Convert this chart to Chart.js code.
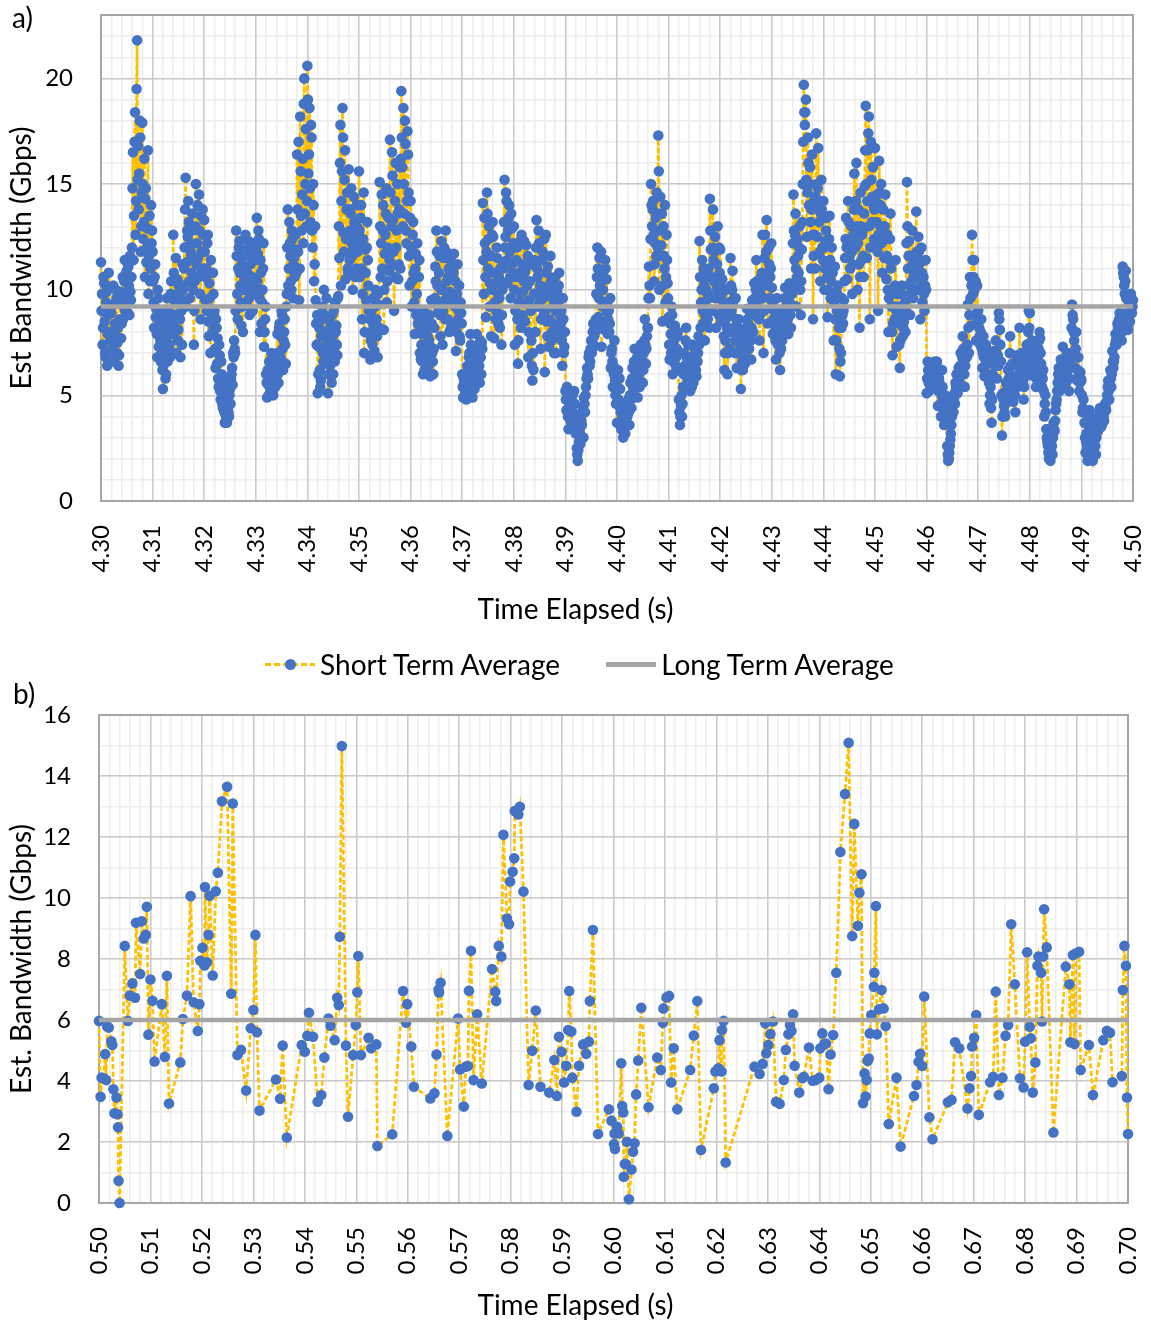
<!DOCTYPE html>
<html>
<head>
<meta charset="utf-8">
<title>Estimated bandwidth</title>
<script src="https://cdn.jsdelivr.net/npm/chart.js@4.4.1/dist/chart.umd.min.js"></script>
<style>
    body { margin: 0; background: #fff; width: 1151px; height: 1326px; position: relative; overflow: hidden; font-family: Lato, sans-serif; color: #000; }
    canvas { position: absolute; left: 0; }
    #chartA { top: 0; }
    #chartB { top: 640px; }
    .tag { position: absolute; font-size: 28px; line-height: 34px; }
    #legend { position: absolute; left: 0; width: 1159px; top: 644px; height: 40px; display: flex; justify-content: center; align-items: center; font-size: 28px; }
    .key { position: relative; width: 50px; height: 12px; margin-right: 5px; }
    .key .dash { position: absolute; left: 0; top: 5px; width: 50px; height: 2.75px; background: repeating-linear-gradient(90deg, #FFC000 0 6px, transparent 6px 9px); }
    .key .dot { position: absolute; left: 19.5px; top: 0.5px; width: 11px; height: 11px; border-radius: 50%; background: #4472C4; }
    .key .solid { position: absolute; left: 0; top: 4px; width: 50px; height: 4.5px; background: #A5A5A5; }
    .lbl + .key { margin-left: 46px; }
</style>
</head>
<body>
<canvas id="chartA" width="1151" height="640"></canvas>
<canvas id="chartB" width="1151" height="686"></canvas>
<div class="tag" style="left:12px; top:0px;">a)</div>
<div class="tag" style="left:13px; top:676px;">b)</div>
<div id="legend">
    <span class="key"><span class="dash"></span><span class="dot"></span></span><span class="lbl">Short Term Average</span>
    <span class="key"><span class="solid"></span></span><span class="lbl">Long Term Average</span>
</div>
<script>
// Two panels of estimated bandwidth: short term average (dashed + markers) and long term average

// ---- panel a: 4.30 - 4.50 s (samples on even 0.1 ms steps) ----
const timeA = [
    4.3000,4.3002,4.3004,4.3006,4.3008,4.3010,4.3012,4.3014,4.3016,4.3018,4.3020,4.3022,4.3024,4.3026,4.3028,4.3030,4.3032,4.3034,4.3036,4.3038,4.3040,4.3042,4.3044,4.3046,4.3048,4.3050,4.3052,4.3054,4.3056,4.3058,4.3060,4.3062,4.3064,4.3066,4.3068,4.3070,4.3072,4.3074,4.3076,4.3078,4.3080,4.3082,4.3084,4.3086,4.3088,4.3090,4.3092,4.3094,4.3096,4.3098,
    4.3100,4.3102,4.3104,4.3106,4.3108,4.3110,4.3112,4.3114,4.3116,4.3118,4.3120,4.3122,4.3124,4.3126,4.3128,4.3130,4.3132,4.3134,4.3136,4.3138,4.3140,4.3142,4.3144,4.3146,4.3148,4.3150,4.3152,4.3154,4.3156,4.3158,4.3160,4.3162,4.3164,4.3166,4.3168,4.3170,4.3172,4.3174,4.3176,4.3178,4.3180,4.3182,4.3184,4.3186,4.3188,4.3190,4.3192,4.3194,4.3196,4.3198,
    4.3200,4.3202,4.3204,4.3206,4.3208,4.3210,4.3212,4.3214,4.3216,4.3218,4.3220,4.3222,4.3224,4.3226,4.3228,4.3230,4.3232,4.3234,4.3236,4.3238,4.3240,4.3242,4.3244,4.3246,4.3248,4.3250,4.3252,4.3254,4.3256,4.3258,4.3260,4.3262,4.3264,4.3266,4.3268,4.3270,4.3272,4.3274,4.3276,4.3278,4.3280,4.3282,4.3284,4.3286,4.3288,4.3290,4.3292,4.3294,4.3296,4.3298,
    4.3300,4.3302,4.3304,4.3306,4.3308,4.3310,4.3312,4.3314,4.3316,4.3318,4.3320,4.3322,4.3324,4.3326,4.3328,4.3330,4.3332,4.3334,4.3336,4.3338,4.3340,4.3342,4.3344,4.3346,4.3348,4.3350,4.3352,4.3354,4.3356,4.3358,4.3360,4.3362,4.3364,4.3366,4.3368,4.3370,4.3372,4.3374,4.3376,4.3378,4.3380,4.3382,4.3384,4.3386,4.3388,4.3390,4.3392,4.3394,4.3396,4.3398,
    4.3400,4.3402,4.3404,4.3406,4.3408,4.3410,4.3412,4.3414,4.3416,4.3418,4.3420,4.3422,4.3424,4.3426,4.3428,4.3430,4.3432,4.3434,4.3436,4.3438,4.3440,4.3442,4.3444,4.3446,4.3448,4.3450,4.3452,4.3454,4.3456,4.3458,4.3460,4.3462,4.3464,4.3466,4.3468,4.3470,4.3472,4.3474,4.3476,4.3478,4.3480,4.3482,4.3484,4.3486,4.3488,4.3490,4.3492,4.3494,4.3496,4.3498,
    4.3500,4.3502,4.3504,4.3506,4.3508,4.3510,4.3512,4.3514,4.3516,4.3518,4.3520,4.3522,4.3524,4.3526,4.3528,4.3530,4.3532,4.3534,4.3536,4.3538,4.3540,4.3542,4.3544,4.3546,4.3548,4.3550,4.3552,4.3554,4.3556,4.3558,4.3560,4.3562,4.3564,4.3566,4.3568,4.3570,4.3572,4.3574,4.3576,4.3578,4.3580,4.3582,4.3584,4.3586,4.3588,4.3590,4.3592,4.3594,4.3596,4.3598,
    4.3600,4.3602,4.3604,4.3606,4.3608,4.3610,4.3612,4.3614,4.3616,4.3618,4.3620,4.3622,4.3624,4.3626,4.3628,4.3630,4.3632,4.3634,4.3636,4.3638,4.3640,4.3642,4.3644,4.3646,4.3648,4.3650,4.3652,4.3654,4.3656,4.3658,4.3660,4.3662,4.3664,4.3666,4.3668,4.3670,4.3672,4.3674,4.3676,4.3678,4.3680,4.3682,4.3684,4.3686,4.3688,4.3690,4.3692,4.3694,4.3696,4.3698,
    4.3700,4.3702,4.3704,4.3706,4.3708,4.3710,4.3712,4.3714,4.3716,4.3718,4.3720,4.3722,4.3724,4.3726,4.3728,4.3730,4.3732,4.3734,4.3736,4.3738,4.3740,4.3742,4.3744,4.3746,4.3748,4.3750,4.3752,4.3754,4.3756,4.3758,4.3760,4.3762,4.3764,4.3766,4.3768,4.3770,4.3772,4.3774,4.3776,4.3778,4.3780,4.3782,4.3784,4.3786,4.3788,4.3790,4.3792,4.3794,4.3796,4.3798,
    4.3800,4.3802,4.3804,4.3806,4.3808,4.3810,4.3812,4.3814,4.3816,4.3818,4.3820,4.3822,4.3824,4.3826,4.3828,4.3830,4.3832,4.3834,4.3836,4.3838,4.3840,4.3842,4.3844,4.3846,4.3848,4.3850,4.3852,4.3854,4.3856,4.3858,4.3860,4.3862,4.3864,4.3866,4.3868,4.3870,4.3872,4.3874,4.3876,4.3878,4.3880,4.3882,4.3884,4.3886,4.3888,4.3890,4.3892,4.3894,4.3896,4.3898,
    4.3900,4.3902,4.3904,4.3906,4.3908,4.3910,4.3912,4.3914,4.3916,4.3918,4.3920,4.3922,4.3924,4.3926,4.3928,4.3930,4.3932,4.3934,4.3936,4.3938,4.3940,4.3942,4.3944,4.3946,4.3948,4.3950,4.3952,4.3954,4.3956,4.3958,4.3960,4.3962,4.3964,4.3966,4.3968,4.3970,4.3972,4.3974,4.3976,4.3978,4.3980,4.3982,4.3984,4.3986,4.3988,4.3990,4.3992,4.3994,4.3996,4.3998,
    4.4000,4.4002,4.4004,4.4006,4.4008,4.4010,4.4012,4.4014,4.4016,4.4018,4.4020,4.4022,4.4024,4.4026,4.4028,4.4030,4.4032,4.4034,4.4036,4.4038,4.4040,4.4042,4.4044,4.4046,4.4048,4.4050,4.4052,4.4054,4.4056,4.4058,4.4060,4.4062,4.4064,4.4066,4.4068,4.4070,4.4072,4.4074,4.4076,4.4078,4.4080,4.4082,4.4084,4.4086,4.4088,4.4090,4.4092,4.4094,4.4096,4.4098,
    4.4100,4.4102,4.4104,4.4106,4.4108,4.4110,4.4112,4.4114,4.4116,4.4118,4.4120,4.4122,4.4124,4.4126,4.4128,4.4130,4.4132,4.4134,4.4136,4.4138,4.4140,4.4142,4.4144,4.4146,4.4148,4.4150,4.4152,4.4154,4.4156,4.4158,4.4160,4.4162,4.4164,4.4166,4.4168,4.4170,4.4172,4.4174,4.4176,4.4178,4.4180,4.4182,4.4184,4.4186,4.4188,4.4190,4.4192,4.4194,4.4196,4.4198,
    4.4200,4.4202,4.4204,4.4206,4.4208,4.4210,4.4212,4.4214,4.4216,4.4218,4.4220,4.4222,4.4224,4.4226,4.4228,4.4230,4.4232,4.4234,4.4236,4.4238,4.4240,4.4242,4.4244,4.4246,4.4248,4.4250,4.4252,4.4254,4.4256,4.4258,4.4260,4.4262,4.4264,4.4266,4.4268,4.4270,4.4272,4.4274,4.4276,4.4278,4.4280,4.4282,4.4284,4.4286,4.4288,4.4290,4.4292,4.4294,4.4296,4.4298,
    4.4300,4.4302,4.4304,4.4306,4.4308,4.4310,4.4312,4.4314,4.4316,4.4318,4.4320,4.4322,4.4324,4.4326,4.4328,4.4330,4.4332,4.4334,4.4336,4.4338,4.4340,4.4342,4.4344,4.4346,4.4348,4.4350,4.4352,4.4354,4.4356,4.4358,4.4360,4.4362,4.4364,4.4366,4.4368,4.4370,4.4372,4.4374,4.4376,4.4378,4.4380,4.4382,4.4384,4.4386,4.4388,4.4390,4.4392,4.4394,4.4396,4.4398,
    4.4400,4.4402,4.4404,4.4406,4.4408,4.4410,4.4412,4.4414,4.4416,4.4418,4.4420,4.4422,4.4424,4.4426,4.4428,4.4430,4.4432,4.4434,4.4436,4.4438,4.4440,4.4442,4.4444,4.4446,4.4448,4.4450,4.4452,4.4454,4.4456,4.4458,4.4460,4.4462,4.4464,4.4466,4.4468,4.4470,4.4472,4.4474,4.4476,4.4478,4.4480,4.4482,4.4484,4.4486,4.4488,4.4490,4.4492,4.4494,4.4496,4.4498,
    4.4500,4.4502,4.4504,4.4506,4.4508,4.4510,4.4512,4.4514,4.4516,4.4518,4.4520,4.4522,4.4524,4.4526,4.4528,4.4530,4.4532,4.4534,4.4536,4.4538,4.4540,4.4542,4.4544,4.4546,4.4548,4.4550,4.4552,4.4554,4.4556,4.4558,4.4560,4.4562,4.4564,4.4566,4.4568,4.4570,4.4572,4.4574,4.4576,4.4578,4.4580,4.4582,4.4584,4.4586,4.4588,4.4590,4.4592,4.4594,4.4596,4.4598,
    4.4600,4.4602,4.4604,4.4606,4.4608,4.4610,4.4612,4.4614,4.4616,4.4618,4.4620,4.4622,4.4624,4.4626,4.4628,4.4630,4.4632,4.4634,4.4636,4.4638,4.4640,4.4642,4.4644,4.4646,4.4648,4.4650,4.4652,4.4654,4.4656,4.4658,4.4660,4.4662,4.4664,4.4666,4.4668,4.4670,4.4672,4.4674,4.4676,4.4678,4.4680,4.4682,4.4684,4.4686,4.4688,4.4690,4.4692,4.4694,4.4696,4.4698,
    4.4700,4.4702,4.4704,4.4706,4.4708,4.4710,4.4712,4.4714,4.4716,4.4718,4.4720,4.4722,4.4724,4.4726,4.4728,4.4730,4.4732,4.4734,4.4736,4.4738,4.4740,4.4742,4.4744,4.4746,4.4748,4.4750,4.4752,4.4754,4.4756,4.4758,4.4760,4.4762,4.4764,4.4766,4.4768,4.4770,4.4772,4.4774,4.4776,4.4778,4.4780,4.4782,4.4784,4.4786,4.4788,4.4790,4.4792,4.4794,4.4796,4.4798,
    4.4800,4.4802,4.4804,4.4806,4.4808,4.4810,4.4812,4.4814,4.4816,4.4818,4.4820,4.4822,4.4824,4.4826,4.4828,4.4830,4.4832,4.4834,4.4836,4.4838,4.4840,4.4842,4.4844,4.4846,4.4848,4.4850,4.4852,4.4854,4.4856,4.4858,4.4860,4.4862,4.4864,4.4866,4.4868,4.4870,4.4872,4.4874,4.4876,4.4878,4.4880,4.4882,4.4884,4.4886,4.4888,4.4890,4.4892,4.4894,4.4896,4.4898,
    4.4900,4.4902,4.4904,4.4906,4.4908,4.4910,4.4912,4.4914,4.4916,4.4918,4.4920,4.4922,4.4924,4.4926,4.4928,4.4930,4.4932,4.4934,4.4936,4.4938,4.4940,4.4942,4.4944,4.4946,4.4948,4.4950,4.4952,4.4954,4.4956,4.4958,4.4960,4.4962,4.4964,4.4966,4.4968,4.4970,4.4972,4.4974,4.4976,4.4978,4.4980,4.4982,4.4984,4.4986,4.4988,4.4990,4.4992,4.4994,4.4996,4.4998,
    4.5000
];
const shortA = [
    11.3,9.8,8.2,10.3,7.0,9.4,6.4,8.8,10.1,7.6, 8.9,7.2,10.2,8.0,6.9,9.6,7.5,6.4,8.6,9.9, 8.4,10.6,9.2,11.4,9.8,10.9,8.9,10.2,11.6,9.5, 12.0,16.5,13.5,18.4,14.2,21.8,16.8,15.5,17.2,13.0, 17.9,12.4,16.2,14.3,11.3,12.9,9.8,13.5,11.0,12.2,
    11.8,9.4,10.6,8.7,7.9,10.0,7.3,8.5,6.6,7.0, 5.3,7.5,8.2,6.0,9.6,7.2,8.8,6.8,10.4,7.9, 12.6,9.5,8.8,7.0,10.5,8.1,9.9,6.8,9.0,11.2, 10.2,12.0,15.3,11.3,12.5,13.2,9.6,11.8,10.8,12.8, 7.4,10.4,15.0,12.2,11.5,14.5,9.8,13.5,10.9,12.6,
    13.3,9.5,11.0,12.2,8.5,10.3,7.0,9.1,8.0,9.8, 9.0,6.3,8.2,7.7,5.4,6.9,4.8,6.0,4.4,5.1, 3.7,3.8,3.7,4.4,4.0,5.3,5.8,6.3,7.0,7.6, 7.0,12.8,9.8,11.0,12.3,10.2,8.3,9.2,11.6,10.5, 12.6,9.3,10.8,12.3,8.8,11.2,10.0,9.0,11.8,10.4,
    10.2,13.4,11.7,12.4,8.0,10.8,9.4,11.0,7.3,8.6, 6.0,4.9,5.5,6.6,5.2,7.0,5.8,5.0,6.3,5.4, 6.3,7.9,5.6,8.4,6.8,9.0,7.2,7.6,8.6,6.5, 9.8,13.8,11.0,12.2,10.4,12.8,9.6,11.5,10.8,11.9, 16.4,11.8,9.5,18.2,13.5,14.5,12.2,20.0,15.0,13.0,
    20.6,15.5,18.6,13.2,17.2,12.0,14.0,11.2,9.5,7.4, 5.1,7.3,6.2,5.7,8.6,7.0,10.0,8.0,6.5,7.6, 5.1,8.1,6.4,7.5,8.8,6.0,7.1,9.4,8.3,6.9, 9.7,11.5,17.8,14.2,18.6,12.7,15.2,10.5,13.8,11.0, 15.7,11.4,13.6,12.2,10.0,14.4,12.5,11.0,13.0,10.6,
    15.6,10.6,14.0,8.6,12.4,7.0,11.9,9.5,13.2,10.2, 7.9,6.7,9.0,7.4,8.3,7.1,10.0,8.6,6.8,9.3, 15.1,10.6,14.5,12.8,8.1,11.7,13.6,9.4,12.0,10.9, 17.1,11.1,16.5,13.3,9.0,14.2,12.0,15.0,10.5,13.8, 11.0,19.4,15.8,18.6,13.6,16.9,12.2,17.5,14.6,10.2,
    14.2,9.2,12.6,10.8,7.9,11.7,9.8,8.4,10.6,7.0, 6.7,7.9,6.0,9.0,7.2,6.3,8.4,6.8,7.6,5.9, 9.5,7.0,6.0,8.2,11.1,12.8,10.2,9.0,11.6,7.8, 12.3,7.4,11.5,9.5,12.8,10.4,8.6,11.0,9.9,8.2, 10.6,8.1,11.7,9.2,7.1,9.8,8.6,10.2,7.6,8.9,
    6.0,4.9,5.6,5.2,4.8,6.4,5.4,7.0,7.9,6.2, 4.9,5.9,5.3,6.5,7.9,6.1,7.1,5.6,6.8,7.5, 14.1,9.8,12.2,8.7,14.6,11.0,13.0,10.3,7.8,12.6, 12.5,7.7,10.3,9.0,11.5,8.4,9.6,11.0,7.4,10.0, 11.0,15.2,12.5,14.2,10.3,13.4,11.8,9.6,12.9,10.8,
    13.0,7.4,10.6,12.0,6.5,9.4,12.3,8.2,11.2,9.9, 12.3,8.5,12.1,10.2,6.8,9.5,11.2,7.6,5.7,6.2, 11.4,8.0,13.3,10.6,12.8,9.4,7.2,10.0,11.8,8.8, 6.1,12.6,8.5,11.1,7.3,9.8,10.4,8.0,9.2,7.0, 10.6,7.0,9.9,8.3,10.8,7.7,9.0,6.4,8.6,7.3,
    5.2,4.3,4.8,3.4,4.5,3.8,4.1,5.0,3.6,4.6, 3.2,2.5,1.9,2.8,3.2,4.0,3.6,4.4,4.9,4.2, 5.4,6.3,5.8,7.0,6.6,7.6,7.2,8.4,7.8,8.0, 9.8,12.0,8.7,11.5,10.5,7.3,9.2,10.9,8.1,11.0, 10.5,7.9,9.0,8.4,6.3,7.2,5.4,6.0,5.7,4.6,
    3.7,6.2,4.5,5.3,3.4,4.0,3.0,3.6,3.2,4.4, 4.0,4.8,3.6,5.6,4.4,6.3,5.1,7.2,6.0,5.5, 4.9,6.7,5.4,7.4,6.2,5.6,7.0,8.6,6.5,7.8, 8.2,11.1,9.6,15.0,13.0,14.2,10.4,12.2,11.6,13.6, 17.3,10.0,14.4,12.1,8.5,13.0,11.0,9.4,12.6,10.3,
    8.7,6.7,7.9,9.2,6.0,7.6,8.3,6.4,7.2,8.0, 4.8,3.6,4.5,4.0,5.4,7.0,6.2,8.2,5.8,7.4, 6.7,5.2,6.0,7.4,5.6,6.4,7.0,5.9,6.6,7.8, 12.3,8.2,10.0,9.0,11.0,7.6,9.2,10.6,8.6,9.6, 14.3,11.9,9.0,13.8,10.4,12.5,8.2,11.2,9.8,12.0,
    11.9,8.5,10.5,9.4,6.2,7.6,10.0,6.0,8.8,7.2, 11.5,9.0,10.9,8.2,7.0,9.6,6.3,7.8,8.6,7.4, 5.3,7.0,6.2,8.0,6.5,7.6,9.1,8.4,7.2,8.8, 6.7,9.5,8.0,10.3,8.8,11.4,9.2,10.0,7.6,9.8, 9.0,12.6,7.0,11.5,10.2,13.3,8.4,12.0,9.6,11.0,
    10.1,7.9,9.0,8.4,6.7,9.6,7.4,8.8,6.2,7.2, 7.6,9.0,8.4,10.1,8.3,9.5,7.9,10.3,8.8,9.2, 10.2,14.5,11.4,13.6,9.2,12.4,10.8,13.0,8.8,11.9, 15.0,19.7,17.8,19.0,12.5,17.2,14.0,15.8,11.0,16.4, 8.6,14.2,11.0,17.4,12.5,16.7,13.2,10.4,15.2,12.0,
    14.2,10.0,12.3,13.4,8.7,11.2,13.5,9.6,12.0,10.8, 7.6,11.1,6.0,9.0,10.2,8.2,5.9,7.0,9.6,8.4, 9.5,11.5,13.4,10.5,14.2,12.2,11.0,13.0,9.8,12.6, 15.5,12.0,16.0,10.0,13.8,8.2,14.6,11.4,12.8,10.6, 14.9,18.7,11.5,16.6,18.2,8.6,17.0,13.2,15.8,12.4,
    16.7,12.0,14.5,9.0,16.1,13.0,15.0,10.8,13.8,11.5, 14.5,10.5,12.6,8.0,11.4,13.6,9.2,6.9,10.0,8.6, 11.4,7.3,9.8,8.6,6.3,9.0,10.2,7.8,8.5,9.4, 9.0,15.1,11.0,12.3,8.8,10.4,12.8,9.6,11.6,10.0, 13.7,10.0,12.5,11.2,8.6,12.0,9.4,10.6,9.0,11.4,
    5.1,6.6,5.6,6.0,6.5,5.4,6.3,5.8,6.6,6.1, 6.6,4.5,5.8,5.3,4.0,6.2,4.8,3.6,5.0,4.3, 2.6,1.9,2.3,2.9,3.6,4.6,4.2,5.1,5.6,6.0, 5.1,6.3,5.6,7.0,6.0,7.8,6.6,5.4,7.3,6.8, 9.3,7.0,10.6,8.3,12.6,9.8,11.4,8.8,7.6,10.2,
    9.0,8.2,7.4,8.6,6.3,7.8,5.9,6.8,7.2,6.0, 6.7,4.6,5.4,3.7,6.0,7.1,6.4,7.6,5.8,6.9, 8.9,8.1,6.6,3.1,5.1,4.5,4.0,5.6,4.8,6.2, 6.2,7.8,5.1,6.5,4.7,5.8,4.2,6.9,5.4,6.0, 8.2,5.6,7.0,6.3,4.8,6.4,5.9,7.4,6.7,9.0,
    8.9,6.1,7.6,6.6,5.9,7.2,5.4,6.4,7.0,7.6, 7.7,6.5,5.4,6.2,4.0,5.0,3.4,2.8,2.3,3.1, 1.9,2.9,2.2,3.7,3.3,4.3,4.8,5.6,6.3,5.2, 6.7,5.4,7.3,6.0,6.6,5.6,7.0,6.2,5.2,6.4, 7.0,9.3,8.6,7.6,6.3,8.0,5.7,6.8,5.2,6.1,
    5.7,4.2,4.8,3.7,2.3,3.2,1.9,2.6,4.3,3.6, 2.1,1.9,2.6,3.0,2.2,3.7,3.3,4.0,4.4,3.5, 3.6,4.1,3.8,4.6,4.3,5.0,5.7,4.8,6.2,5.4, 7.1,6.3,6.8,7.9,7.4,8.4,8.0,8.9,8.6,7.6, 11.1,10.6,9.8,10.9,8.9,8.1,9.4,8.5,9.8,8.9,
    9.5
];
// panel a samples that fall between the ones above (odd 0.1 ms steps)
const timeAMid = [
    4.3001,4.3003,4.3005,4.3007,4.3009,4.3011,4.3013,4.3015,4.3017,4.3019,4.3021,4.3023,4.3025,4.3027,4.3029,4.3031,4.3033,4.3035,4.3037,4.3039,4.3041,4.3043,4.3045,4.3047,4.3049,4.3051,4.3053,4.3055,4.3057,4.3059,4.3061,4.3063,4.3065,4.3067,4.3069,4.3071,4.3073,4.3075,4.3077,4.3079,4.3081,4.3083,4.3085,4.3087,4.3089,4.3091,4.3093,4.3095,4.3097,4.3099,
    4.3101,4.3103,4.3105,4.3107,4.3109,4.3111,4.3113,4.3115,4.3117,4.3119,4.3121,4.3123,4.3125,4.3127,4.3129,4.3131,4.3133,4.3135,4.3137,4.3139,4.3141,4.3143,4.3145,4.3147,4.3149,4.3151,4.3153,4.3155,4.3157,4.3159,4.3161,4.3163,4.3165,4.3167,4.3169,4.3171,4.3173,4.3175,4.3177,4.3179,4.3181,4.3183,4.3185,4.3187,4.3189,4.3191,4.3193,4.3195,4.3197,4.3199,
    4.3201,4.3203,4.3205,4.3207,4.3209,4.3211,4.3213,4.3215,4.3217,4.3219,4.3221,4.3223,4.3225,4.3227,4.3229,4.3231,4.3233,4.3235,4.3237,4.3239,4.3241,4.3243,4.3245,4.3247,4.3249,4.3251,4.3253,4.3255,4.3257,4.3259,4.3261,4.3263,4.3265,4.3267,4.3269,4.3271,4.3273,4.3275,4.3277,4.3279,4.3281,4.3283,4.3285,4.3287,4.3289,4.3291,4.3293,4.3295,4.3297,4.3299,
    4.3301,4.3303,4.3305,4.3307,4.3309,4.3311,4.3313,4.3315,4.3317,4.3319,4.3321,4.3323,4.3325,4.3327,4.3329,4.3331,4.3333,4.3335,4.3337,4.3339,4.3341,4.3343,4.3345,4.3347,4.3349,4.3351,4.3353,4.3355,4.3357,4.3359,4.3361,4.3363,4.3365,4.3367,4.3369,4.3371,4.3373,4.3375,4.3377,4.3379,4.3381,4.3383,4.3385,4.3387,4.3389,4.3391,4.3393,4.3395,4.3397,4.3399,
    4.3401,4.3403,4.3405,4.3407,4.3409,4.3411,4.3413,4.3415,4.3417,4.3419,4.3421,4.3423,4.3425,4.3427,4.3429,4.3431,4.3433,4.3435,4.3437,4.3439,4.3441,4.3443,4.3445,4.3447,4.3449,4.3451,4.3453,4.3455,4.3457,4.3459,4.3461,4.3463,4.3465,4.3467,4.3469,4.3471,4.3473,4.3475,4.3477,4.3479,4.3481,4.3483,4.3485,4.3487,4.3489,4.3491,4.3493,4.3495,4.3497,4.3499,
    4.3501,4.3503,4.3505,4.3507,4.3509,4.3511,4.3513,4.3515,4.3517,4.3519,4.3521,4.3523,4.3525,4.3527,4.3529,4.3531,4.3533,4.3535,4.3537,4.3539,4.3541,4.3543,4.3545,4.3547,4.3549,4.3551,4.3553,4.3555,4.3557,4.3559,4.3561,4.3563,4.3565,4.3567,4.3569,4.3571,4.3573,4.3575,4.3577,4.3579,4.3581,4.3583,4.3585,4.3587,4.3589,4.3591,4.3593,4.3595,4.3597,4.3599,
    4.3601,4.3603,4.3605,4.3607,4.3609,4.3611,4.3613,4.3615,4.3617,4.3619,4.3621,4.3623,4.3625,4.3627,4.3629,4.3631,4.3633,4.3635,4.3637,4.3639,4.3641,4.3643,4.3645,4.3647,4.3649,4.3651,4.3653,4.3655,4.3657,4.3659,4.3661,4.3663,4.3665,4.3667,4.3669,4.3671,4.3673,4.3675,4.3677,4.3679,4.3681,4.3683,4.3685,4.3687,4.3689,4.3691,4.3693,4.3695,4.3697,4.3699,
    4.3701,4.3703,4.3705,4.3707,4.3709,4.3711,4.3713,4.3715,4.3717,4.3719,4.3721,4.3723,4.3725,4.3727,4.3729,4.3731,4.3733,4.3735,4.3737,4.3739,4.3741,4.3743,4.3745,4.3747,4.3749,4.3751,4.3753,4.3755,4.3757,4.3759,4.3761,4.3763,4.3765,4.3767,4.3769,4.3771,4.3773,4.3775,4.3777,4.3779,4.3781,4.3783,4.3785,4.3787,4.3789,4.3791,4.3793,4.3795,4.3797,4.3799,
    4.3801,4.3803,4.3805,4.3807,4.3809,4.3811,4.3813,4.3815,4.3817,4.3819,4.3821,4.3823,4.3825,4.3827,4.3829,4.3831,4.3833,4.3835,4.3837,4.3839,4.3841,4.3843,4.3845,4.3847,4.3849,4.3851,4.3853,4.3855,4.3857,4.3859,4.3861,4.3863,4.3865,4.3867,4.3869,4.3871,4.3873,4.3875,4.3877,4.3879,4.3881,4.3883,4.3885,4.3887,4.3889,4.3891,4.3893,4.3895,4.3897,4.3899,
    4.3901,4.3903,4.3905,4.3907,4.3909,4.3911,4.3913,4.3915,4.3917,4.3919,4.3921,4.3923,4.3925,4.3927,4.3929,4.3931,4.3933,4.3935,4.3937,4.3939,4.3941,4.3943,4.3945,4.3947,4.3949,4.3951,4.3953,4.3955,4.3957,4.3959,4.3961,4.3963,4.3965,4.3967,4.3969,4.3971,4.3973,4.3975,4.3977,4.3979,4.3981,4.3983,4.3985,4.3987,4.3989,4.3991,4.3993,4.3995,4.3997,4.3999,
    4.4001,4.4003,4.4005,4.4007,4.4009,4.4011,4.4013,4.4015,4.4017,4.4019,4.4021,4.4023,4.4025,4.4027,4.4029,4.4031,4.4033,4.4035,4.4037,4.4039,4.4041,4.4043,4.4045,4.4047,4.4049,4.4051,4.4053,4.4055,4.4057,4.4059,4.4061,4.4063,4.4065,4.4067,4.4069,4.4071,4.4073,4.4075,4.4077,4.4079,4.4081,4.4083,4.4085,4.4087,4.4089,4.4091,4.4093,4.4095,4.4097,4.4099,
    4.4101,4.4103,4.4105,4.4107,4.4109,4.4111,4.4113,4.4115,4.4117,4.4119,4.4121,4.4123,4.4125,4.4127,4.4129,4.4131,4.4133,4.4135,4.4137,4.4139,4.4141,4.4143,4.4145,4.4147,4.4149,4.4151,4.4153,4.4155,4.4157,4.4159,4.4161,4.4163,4.4165,4.4167,4.4169,4.4171,4.4173,4.4175,4.4177,4.4179,4.4181,4.4183,4.4185,4.4187,4.4189,4.4191,4.4193,4.4195,4.4197,4.4199,
    4.4201,4.4203,4.4205,4.4207,4.4209,4.4211,4.4213,4.4215,4.4217,4.4219,4.4221,4.4223,4.4225,4.4227,4.4229,4.4231,4.4233,4.4235,4.4237,4.4239,4.4241,4.4243,4.4245,4.4247,4.4249,4.4251,4.4253,4.4255,4.4257,4.4259,4.4261,4.4263,4.4265,4.4267,4.4269,4.4271,4.4273,4.4275,4.4277,4.4279,4.4281,4.4283,4.4285,4.4287,4.4289,4.4291,4.4293,4.4295,4.4297,4.4299,
    4.4301,4.4303,4.4305,4.4307,4.4309,4.4311,4.4313,4.4315,4.4317,4.4319,4.4321,4.4323,4.4325,4.4327,4.4329,4.4331,4.4333,4.4335,4.4337,4.4339,4.4341,4.4343,4.4345,4.4347,4.4349,4.4351,4.4353,4.4355,4.4357,4.4359,4.4361,4.4363,4.4365,4.4367,4.4369,4.4371,4.4373,4.4375,4.4377,4.4379,4.4381,4.4383,4.4385,4.4387,4.4389,4.4391,4.4393,4.4395,4.4397,4.4399,
    4.4401,4.4403,4.4405,4.4407,4.4409,4.4411,4.4413,4.4415,4.4417,4.4419,4.4421,4.4423,4.4425,4.4427,4.4429,4.4431,4.4433,4.4435,4.4437,4.4439,4.4441,4.4443,4.4445,4.4447,4.4449,4.4451,4.4453,4.4455,4.4457,4.4459,4.4461,4.4463,4.4465,4.4467,4.4469,4.4471,4.4473,4.4475,4.4477,4.4479,4.4481,4.4483,4.4485,4.4487,4.4489,4.4491,4.4493,4.4495,4.4497,4.4499,
    4.4501,4.4503,4.4505,4.4507,4.4509,4.4511,4.4513,4.4515,4.4517,4.4519,4.4521,4.4523,4.4525,4.4527,4.4529,4.4531,4.4533,4.4535,4.4537,4.4539,4.4541,4.4543,4.4545,4.4547,4.4549,4.4551,4.4553,4.4555,4.4557,4.4559,4.4561,4.4563,4.4565,4.4567,4.4569,4.4571,4.4573,4.4575,4.4577,4.4579,4.4581,4.4583,4.4585,4.4587,4.4589,4.4591,4.4593,4.4595,4.4597,4.4599,
    4.4601,4.4603,4.4605,4.4607,4.4609,4.4611,4.4613,4.4615,4.4617,4.4619,4.4621,4.4623,4.4625,4.4627,4.4629,4.4631,4.4633,4.4635,4.4637,4.4639,4.4641,4.4643,4.4645,4.4647,4.4649,4.4651,4.4653,4.4655,4.4657,4.4659,4.4661,4.4663,4.4665,4.4667,4.4669,4.4671,4.4673,4.4675,4.4677,4.4679,4.4681,4.4683,4.4685,4.4687,4.4689,4.4691,4.4693,4.4695,4.4697,4.4699,
    4.4701,4.4703,4.4705,4.4707,4.4709,4.4711,4.4713,4.4715,4.4717,4.4719,4.4721,4.4723,4.4725,4.4727,4.4729,4.4731,4.4733,4.4735,4.4737,4.4739,4.4741,4.4743,4.4745,4.4747,4.4749,4.4751,4.4753,4.4755,4.4757,4.4759,4.4761,4.4763,4.4765,4.4767,4.4769,4.4771,4.4773,4.4775,4.4777,4.4779,4.4781,4.4783,4.4785,4.4787,4.4789,4.4791,4.4793,4.4795,4.4797,4.4799,
    4.4801,4.4803,4.4805,4.4807,4.4809,4.4811,4.4813,4.4815,4.4817,4.4819,4.4821,4.4823,4.4825,4.4827,4.4829,4.4831,4.4833,4.4835,4.4837,4.4839,4.4841,4.4843,4.4845,4.4847,4.4849,4.4851,4.4853,4.4855,4.4857,4.4859,4.4861,4.4863,4.4865,4.4867,4.4869,4.4871,4.4873,4.4875,4.4877,4.4879,4.4881,4.4883,4.4885,4.4887,4.4889,4.4891,4.4893,4.4895,4.4897,4.4899,
    4.4901,4.4903,4.4905,4.4907,4.4909,4.4911,4.4913,4.4915,4.4917,4.4919,4.4921,4.4923,4.4925,4.4927,4.4929,4.4931,4.4933,4.4935,4.4937,4.4939,4.4941,4.4943,4.4945,4.4947,4.4949,4.4951,4.4953,4.4955,4.4957,4.4959,4.4961,4.4963,4.4965,4.4967,4.4969,4.4971,4.4973,4.4975,4.4977,4.4979,4.4981,4.4983,4.4985,4.4987,4.4989,4.4991,4.4993,4.4995,4.4997,4.4999
];
const shortAMid = [
    9.0,7.4,10.6,8.5,6.8,9.9,7.9,10.8,8.0,9.2, 7.8,9.3,6.6,8.4,10.0,7.0,8.2,6.9,9.4,7.7, 9.6,8.6,10.4,9.0,10.8,9.4,11.1,8.8,9.9,10.6, 14.8,11.4,17.0,12.6,19.5,15.2,13.8,18.0,11.8,14.6, 15.0,13.2,10.6,14.8,12.0,16.6,11.6,10.4,14.0,12.8,
    10.4,8.2,11.2,9.1,6.8,9.6,8.0,7.6,9.0,6.2, 6.4,8.6,5.8,7.8,6.6,9.0,7.4,9.8,8.4,7.0, 10.8,8.2,11.5,9.4,7.6,10.2,8.6,9.6,7.4,10.0, 11.0,13.8,9.2,12.8,14.2,10.4,12.2,11.6,13.6,10.0, 9.0,13.0,11.2,14.0,10.6,12.8,8.6,11.8,13.8,11.0,
    11.8,10.6,9.0,12.6,7.8,9.6,11.4,8.4,10.8,8.8, 7.2,8.6,6.5,5.8,7.4,5.2,6.6,4.6,5.6,4.2, 4.1,3.9,4.8,4.2,5.0,4.6,6.0,5.5,6.8,7.2, 9.0,11.6,8.6,12.0,10.8,9.4,11.2,8.0,10.0,12.4, 11.0,10.2,12.0,9.6,11.6,9.0,10.6,12.2,9.8,11.4,
    12.0,10.4,12.8,9.6,11.4,8.4,10.0,12.2,8.0,9.2, 5.6,6.2,5.0,6.0,5.4,6.4,5.2,6.8,5.8,6.1, 7.0,6.0,8.2,6.4,7.8,8.8,6.2,8.0,7.4,9.2, 12.0,10.2,13.2,11.6,10.0,12.4,11.2,10.6,12.6,10.8, 13.8,17.0,11.0,15.6,12.8,16.2,18.8,13.6,17.6,14.2,
    19.0,16.4,14.8,17.8,12.8,15.0,10.4,13.0,8.4,8.8, 6.0,8.2,5.4,7.8,9.2,6.6,8.8,7.2,9.6,6.8, 6.0,7.2,8.4,5.6,7.8,9.0,6.6,8.0,7.4,9.6, 13.0,16.0,10.2,15.6,17.2,11.8,16.6,12.4,14.6,10.8, 13.8,12.8,14.8,11.6,12.0,13.2,10.6,14.0,11.8,12.2,
    12.8,13.4,11.0,9.8,14.6,8.0,10.8,12.0,11.4,9.0, 8.6,7.6,8.0,9.6,7.0,9.2,8.4,7.8,9.8,8.2, 13.0,12.2,11.0,14.0,10.0,12.6,14.8,10.4,13.4,11.4, 14.6,13.0,15.4,11.8,10.6,16.0,12.8,13.6,11.2,15.8, 16.2,17.2,13.0,15.0,18.0,12.8,14.2,16.4,11.6,13.4,
    12.0,10.4,13.2,9.4,11.0,8.8,12.2,9.0,11.4,8.2, 7.4,6.6,8.6,6.2,8.0,7.0,7.8,6.4,8.8,7.2, 8.4,6.6,7.2,9.6,10.4,11.8,9.4,10.8,8.8,10.0, 10.0,9.0,12.0,8.6,11.8,9.8,10.6,8.0,11.4,9.4, 9.6,10.8,8.4,10.4,8.0,11.2,9.0,7.8,9.4,8.4,
    5.4,5.8,5.0,6.0,5.6,5.2,6.8,6.2,7.4,5.8, 5.4,6.2,5.8,7.2,7.0,6.6,6.4,7.6,6.0,7.2, 11.4,13.4,10.6,11.8,13.6,12.4,9.2,11.6,10.0,13.2, 10.8,9.4,8.6,12.0,9.8,10.6,8.2,10.4,8.8,11.2, 13.2,12.0,14.6,11.4,12.8,14.0,10.6,13.6,11.2,12.2,
    10.0,9.0,11.4,8.6,7.6,10.8,9.8,12.6,8.8,10.4, 10.8,11.0,9.4,11.6,8.0,10.4,9.0,6.4,7.0,9.8, 9.8,12.0,11.0,9.2,12.2,10.2,8.6,11.4,9.6,12.4, 9.0,10.8,7.8,10.2,8.6,11.6,7.6,9.6,8.4,10.0, 9.0,8.0,9.4,10.2,8.8,8.4,7.6,9.6,7.0,8.0,
    4.8,5.4,4.0,4.4,3.9,4.7,4.3,3.8,5.2,4.1, 3.6,2.2,2.4,3.4,2.7,3.8,4.2,3.0,4.6,5.0, 5.8,6.0,6.8,6.4,7.2,7.0,8.0,7.4,8.2,8.6, 10.6,11.0,9.6,10.2,11.8,8.4,10.0,9.4,11.4,9.0, 9.4,8.6,8.0,9.6,7.0,6.6,6.4,7.6,5.0,5.4,
    5.4,4.8,5.8,4.2,4.6,3.6,3.4,4.0,3.8,3.6, 4.4,4.2,5.0,4.8,5.8,5.4,6.6,6.4,5.6,6.8, 5.8,6.0,6.6,6.8,7.0,6.2,7.6,7.4,7.2,8.2, 9.6,10.2,12.4,14.0,13.8,12.6,11.2,13.4,14.6,12.0, 15.6,12.8,11.6,13.6,10.2,11.6,14.0,10.6,11.4,9.6,
    7.4,8.4,7.0,8.8,6.6,8.0,7.0,6.8,7.8,6.2, 4.2,4.0,5.0,4.6,6.0,6.4,7.6,6.8,6.6,6.8, 5.8,6.2,5.4,6.8,6.0,7.2,6.2,6.6,7.0,7.4, 10.6,9.4,11.4,8.4,10.2,8.8,10.0,9.8,11.0,8.2, 12.8,10.6,12.0,11.4,11.8,9.6,10.0,13.0,8.8,10.8,
    10.2,9.8,9.0,7.8,7.0,8.6,8.2,7.0,9.4,8.0, 10.2,10.0,9.4,9.6,7.6,8.6,7.0,8.2,7.8,8.0, 6.2,6.6,7.4,7.2,7.0,8.2,8.6,7.8,8.0,7.6, 8.2,8.8,9.2,9.6,10.0,10.4,9.8,8.6,8.8,10.6, 10.8,9.6,9.0,12.6,11.8,10.4,10.8,11.2,10.6,12.2,
    9.4,8.6,8.0,7.6,8.2,8.4,8.2,7.0,7.8,7.8, 8.2,8.8,9.6,9.2,8.8,8.6,9.8,9.4,8.2,9.8, 12.2,12.8,12.6,11.0,10.6,11.6,12.0,10.0,10.4,13.2, 17.0,18.4,18.4,15.2,14.6,16.0,15.0,13.2,13.8,12.6, 11.6,12.6,14.4,15.0,14.8,14.0,11.8,13.6,13.8,11.4,
    12.0,11.0,12.8,10.6,10.0,12.4,11.4,10.4,11.0,9.8, 9.4,8.6,7.6,9.8,9.0,7.2,6.6,8.2,8.8,9.0, 10.4,12.4,12.0,12.2,13.2,11.6,12.0,11.8,11.2,13.8, 13.8,14.2,13.0,12.2,11.2,10.6,13.0,12.6,11.6,13.6, 16.6,15.0,14.2,17.4,13.0,12.0,15.2,14.4,14.0,13.8,
    14.2,13.2,11.8,12.6,14.6,14.0,12.2,12.4,12.6,13.0, 12.4,11.6,10.0,9.6,12.4,11.0,8.0,8.4,9.2,10.2, 9.0,8.4,9.2,7.4,7.6,9.8,9.0,8.2,8.8,8.0, 12.2,13.0,11.6,10.2,9.8,11.6,11.2,10.6,10.8,10.6, 11.8,11.4,11.8,10.0,10.2,10.8,10.0,9.8,10.2,10.0,
    5.8,6.2,5.2,6.4,5.9,5.7,6.0,6.2,6.4,6.4, 5.6,5.2,5.6,4.6,5.0,5.4,4.2,4.4,4.6,3.9, 2.2,2.0,2.6,3.2,4.0,4.2,4.8,4.6,5.4,5.4, 5.6,5.8,6.4,6.2,6.8,7.2,6.0,6.4,7.0,7.4, 8.2,8.8,9.6,10.2,11.4,10.6,10.0,10.4,8.4,9.0,
    8.6,7.8,8.0,7.2,7.0,6.8,6.4,7.4,6.6,6.6, 5.6,5.0,4.4,4.8,6.6,6.8,7.0,7.0,6.4,6.4, 8.6,7.4,5.0,4.0,4.8,4.2,4.6,5.2,5.4,5.8, 7.0,6.4,5.8,5.6,5.2,5.0,5.4,5.6,6.4,6.8, 6.8,6.4,6.6,5.6,5.4,6.0,6.6,7.0,8.0,8.2,
    7.4,6.8,7.2,6.2,6.6,6.4,5.8,6.8,7.2,8.0, 7.0,6.0,5.8,5.2,4.6,4.2,3.0,2.6,2.0,2.6, 2.4,2.6,3.0,3.4,3.8,4.6,5.2,6.0,5.8,6.0, 6.0,6.4,6.6,6.4,6.2,6.2,6.6,5.8,5.8,6.8, 8.2,8.8,8.0,6.8,7.2,6.8,6.2,6.0,5.6,5.8,
    5.0,4.4,4.2,3.0,2.8,2.6,2.2,3.4,4.0,3.0, 2.0,2.3,2.8,2.6,3.0,3.4,3.6,4.2,4.0,3.8, 3.8,4.0,4.2,4.4,4.7,5.4,5.2,5.5,5.8,6.0, 6.6,6.6,7.4,7.6,7.8,8.2,8.6,8.4,8.2,8.0, 10.8,10.2,10.4,9.6,8.6,8.8,9.0,9.2,9.4,9.2
];
const longTimeA = [4.30, 4.50];
const longA = [9.2, 9.2];
const xTicksA = [4.30,4.31,4.32,4.33,4.34,4.35,4.36,4.37,4.38,4.39,4.40,4.41,4.42,4.43,4.44,4.45,4.46,4.47,4.48,4.49,4.50];
const yTicksA = [0, 5, 10, 15, 20];

// ---- panel b: 0.50 - 0.70 s ----
const timeB = [
    0.5000,0.5003,0.5005,0.5009,0.5012,0.5014,0.5016,0.5019,0.5024,0.5026,
    0.5028,0.5030,0.5034,0.5036,0.5037,0.5038,0.5040,0.5050,0.5056,0.5060,
    0.5065,0.5070,0.5072,0.5080,0.5083,0.5087,0.5091,0.5093,0.5096,0.5100,
    0.5104,0.5108,0.5122,0.5128,0.5132,0.5136,0.5158,0.5163,0.5171,0.5178,
    0.5184,0.5192,0.5195,0.5197,0.5201,0.5205,0.5206,0.5210,0.5213,0.5215,
    0.5221,0.5227,0.5231,0.5239,0.5249,0.5257,0.5260,0.5269,0.5276,0.5286,
    0.5295,0.5300,0.5304,0.5307,0.5312,0.5344,0.5352,0.5357,0.5365,
    0.5394,0.5400,0.5405,0.5408,0.5416,0.5425,0.5432,0.5438,0.5446,0.5450,
    0.5458,0.5463,0.5466,0.5468,0.5472,0.5480,0.5484,0.5494,0.5499,0.5502,
    0.5504,0.5509,0.5524,0.5529,0.5539,0.5541,0.5570,0.5591,0.5597,0.5599,
    0.5607,0.5612,0.5644,0.5652,0.5656,0.5660,0.5661,0.5664,0.5677,0.5698,
    0.5702,0.5709,0.5713,0.5717,0.5719,0.5723,0.5728,0.5735,0.5744,0.5764,
    0.5770,0.5772,0.5777,0.5782,0.5786,0.5793,0.5797,0.5799,0.5804,0.5807,
    0.5808,0.5815,0.5818,0.5825,0.5835,0.5842,0.5849,0.5858,
    0.5875,0.5885,0.5890,0.5894,0.5899,0.5904,0.5908,0.5912,0.5914,0.5918,
    0.5920,0.5928,0.5933,0.5941,0.5947,0.5952,0.5954,0.5960,0.5970,0.5991,
    0.5996,0.6001,0.6002,0.6003,0.6007,0.6010,0.6015,0.6017,0.6019,0.6020,
    0.6022,0.6024,0.6026,0.6030,0.6035,0.6038,0.6041,0.6044,0.6048,0.6054,
    0.6068,0.6085,0.6092,0.6096,0.6097,0.6103,0.6108,0.6112,0.6117,0.6124,
    0.6149,0.6156,0.6163,0.6170,0.6195,0.6198,0.6204,0.6206,0.6210,0.6211,
    0.6214,0.6218,0.6274,0.6284,0.6290,0.6295,0.6297,0.6301,0.6305,0.6310,
    0.6316,0.6323,
    0.6331,0.6335,0.6340,0.6343,0.6346,0.6349,0.6352,0.6361,0.6367,0.6370,
    0.6380,0.6387,0.6393,0.6400,0.6402,0.6406,0.6410,0.6413,0.6418,0.6422,
    0.6427,0.6433,0.6441,0.6450,0.6457,0.6464,0.6468,0.6475,0.6478,0.6482,
    0.6485,0.6488,0.6490,0.6492,0.6494,0.6496,0.6498,0.6501,0.6506,0.6507,
    0.6510,0.6512,0.6516,0.6521,0.6525,0.6529,0.6535,0.6550,0.6558,0.6584,
    0.6589,0.6593,0.6596,0.6600,0.6604,0.6614,0.6620,0.6650,0.6657,0.6664,
    0.6672,0.6688,0.6692,0.6695,0.6697,0.6701,0.6705,0.6710,0.6732,0.6738,
    0.6743,0.6749,0.6756,0.6762,0.6767,0.6773,0.6780,0.6790,0.6797,0.6800,
    0.6804,0.6809,0.6811,0.6815,0.6820,0.6824,0.6826,0.6831,0.6833,0.6835,
    0.6837,0.6842,0.6855,0.6879,0.6886,0.6888,0.6893,0.6896,0.6899,0.6905,
    0.6908,0.6924,0.6932,0.6952,0.6959,0.6965,0.6970,0.6988,0.6990,0.6993,
    0.6996,0.6998,0.7000
];
const shortB = [
    5.97,3.48,4.11,4.09,4.88,4.03,5.79,5.75,5.30,5.18,
    3.73,2.94,3.46,2.91,2.48,0.73,0.00,8.43,5.97,6.80,
    7.20,6.73,9.19,7.51,9.24,8.67,8.79,9.71,5.52,7.33,
    6.63,4.64,6.52,4.79,7.45,3.26,4.61,6.03,6.80,10.06,
    6.58,5.64,6.52,7.94,8.37,7.79,10.36,7.89,8.79,10.07,
    7.46,10.22,10.83,13.17,13.65,6.86,13.10,4.85,5.02,3.69,
    5.73,6.33,8.79,5.60,3.03,4.05,3.42,5.16,2.15,
    5.18,4.96,5.48,6.24,5.45,3.32,3.54,4.77,6.05,5.81,
    5.34,6.73,6.49,8.73,14.98,5.16,2.83,4.85,5.84,6.91,
    8.10,4.85,5.42,5.07,5.20,1.87,2.25,6.95,5.91,6.52,
    5.13,3.81,3.43,3.60,4.87,7.00,6.90,7.22,2.20,6.05,
    4.38,3.16,4.47,4.49,6.96,8.27,4.03,6.19,3.92,7.67,
    6.93,6.62,8.43,8.08,12.07,9.33,9.14,10.54,10.86,11.30,
    12.85,12.74,12.99,10.21,3.87,4.99,6.31,3.81,
    3.62,4.69,3.51,5.45,4.96,3.95,4.50,5.67,6.95,5.62,
    4.11,2.99,4.50,5.20,4.89,5.29,6.62,8.95,2.26,3.07,
    2.70,1.93,2.28,1.77,2.50,2.28,4.58,3.18,2.97,0.86,
    1.28,1.28,2.01,0.12,1.10,1.68,1.96,3.56,4.67,6.40,
    3.14,4.77,4.36,5.91,6.38,6.74,6.79,3.95,5.07,3.07,
    4.36,5.49,6.62,1.74,3.76,4.31,4.42,5.34,4.31,5.67,
    5.97,1.33,4.47,4.23,4.56,5.89,4.91,5.18,5.54,5.95,
    3.32,3.25,
    4.03,5.02,5.53,5.84,5.64,6.19,4.50,3.62,4.09,4.14,
    5.10,4.01,4.03,4.11,5.07,5.56,5.21,5.23,3.73,4.87,
    5.51,7.55,11.51,13.41,15.09,8.75,12.43,9.09,10.17,10.78,
    3.27,4.25,3.49,4.03,4.66,4.74,5.56,6.16,7.09,7.55,
    9.74,5.53,6.35,6.98,6.38,5.80,2.59,4.11,1.85,3.51,
    3.87,4.63,4.89,4.49,6.77,2.81,2.09,3.30,3.38,5.27,
    5.07,3.10,3.76,4.16,5.13,5.42,6.16,2.89,3.96,4.14,
    6.93,3.54,4.11,5.48,5.84,9.14,7.17,4.09,3.79,5.29,
    8.22,5.78,5.40,3.62,4.61,7.78,8.08,7.55,5.95,8.08,
    9.63,8.38,2.31,7.75,7.17,5.27,8.13,5.21,8.19,8.24,
    4.36,5.18,3.54,5.34,5.65,5.58,3.96,4.16,6.98,8.43,
    7.78,3.46,2.26
];
const longTimeB = [0.50, 0.70];
const longB = [6.0, 6.0];
const xTicksB = [0.50,0.51,0.52,0.53,0.54,0.55,0.56,0.57,0.58,0.59,0.60,0.61,0.62,0.63,0.64,0.65,0.66,0.67,0.68,0.69,0.70];
const yTicksB = [0, 2, 4, 6, 8, 10, 12, 14, 16];

// colours (Excel defaults)
const BLUE = '#4472C4';
const GOLD = '#FFC000';
const GREY = '#A5A5A5';
const MAJOR = '#cbcbcb';
const MINOR = '#ededed';
const FRAME = '#a6a6a6';
const FONT = 'Lato';

Chart.defaults.font.family = FONT;
Chart.defaults.color = '#000';

function pairs(xs, ys) {
    return xs.map((x, i) => ({ x: x, y: ys[i] }));
}

// keep the frame exactly where we put it: no extra label padding
function noPad(s) {
    s.paddingTop = 0;
    s.paddingBottom = 0;
    s.paddingLeft = 0;
    s.paddingRight = 0;
}

// one panel; p holds the data arrays plus the frame sizes
function buildPanel(canvasId, p) {
    return new Chart(document.getElementById(canvasId), {
        type: 'line',
        data: {
            datasets: [{
                label: 'Short Term Average',
                data: p.points,
                borderColor: GOLD,
                borderWidth: 2.75,
                borderDash: [5, 2.5],
                pointRadius: 5.3,
                pointBackgroundColor: BLUE,
                pointBorderColor: BLUE,
                pointBorderWidth: 0,
                clip: false,
                order: 1
            }, {
                label: 'Long Term Average',
                data: pairs(p.longTime, p.long),
                borderColor: GREY,
                borderWidth: 4.5,
                pointRadius: 0,
                order: 0
            }]
        },
        options: {
            responsive: false,
            animation: false,
            events: [],
            layout: { padding: { top: p.padTop, left: 0, right: 0, bottom: 0 } },
            plugins: {
                legend: { display: false },
                tooltip: { enabled: false },
                title: {
                    display: true,
                    position: 'bottom',
                    text: 'Time Elapsed (s)',
                    color: '#000',
                    font: { family: FONT, size: 28, weight: 'normal' },
                    padding: { top: 0, bottom: p.titleBottom }
                }
            },
            scales: {
                x: {
                    type: 'linear',
                    position: 'bottom',
                    min: p.xTicks[0],
                    max: p.xTicks[p.xTicks.length - 1],
                    afterBuildTicks: s => { s.ticks = p.xTicks.map(v => ({ value: v })); },
                    afterFit: s => { s.height = p.xAxisH; noPad(s); },
                    ticks: {
                        autoSkip: false,
                        minRotation: 90,
                        maxRotation: 90,
                        padding: 24,
                        color: '#000',
                        font: { size: 24 },
                        callback: v => v.toFixed(2)
                    },
                    grid: { color: MAJOR, lineWidth: 1.5, drawTicks: false },
                    border: { color: FRAME, width: 2 }
                },
                y: {
                    type: 'linear',
                    position: 'left',
                    min: 0,
                    max: p.yMax,
                    afterBuildTicks: s => { s.ticks = p.yTicks.map(v => ({ value: v })); },
                    afterFit: s => { s.width = p.yAxisW; noPad(s); },
                    ticks: { padding: 28, color: '#000', font: { size: 24 } },
                    grid: { color: MAJOR, lineWidth: 1.5, drawTicks: false },
                    border: { color: FRAME, width: 2 },
                    title: {
                        display: true,
                        text: p.yTitle,
                        color: '#000',
                        font: { size: 28 },
                        padding: { top: 5, bottom: 0 }
                    }
                },
                // minor grid + top frame line
                xMinor: {
                    type: 'linear',
                    position: 'top',
                    min: p.xTicks[0],
                    max: p.xTicks[p.xTicks.length - 1],
                    ticks: { display: false, stepSize: 0.002 },
                    grid: { color: MINOR, lineWidth: 1.5, drawTicks: false, z: -2 },
                    border: { color: FRAME, width: 2 },
                    afterFit: s => { s.height = 0; noPad(s); }
                },
                // minor grid + right frame line
                yMinor: {
                    type: 'linear',
                    position: 'right',
                    min: 0,
                    max: p.yMax,
                    ticks: { display: false, stepSize: 1 },
                    grid: { color: MINOR, lineWidth: 1.5, drawTicks: false, z: -2 },
                    border: { color: FRAME, width: 2 },
                    afterFit: s => { s.width = p.rightW; noPad(s); }
                }
            }
        }
    });
}

// panel a: both sample sets merged in time order so the line visits them in sequence
const pointsA = pairs(timeA, shortA).concat(pairs(timeAMid, shortAMid)).sort((a, b) => a.x - b.x);

buildPanel('chartA', {
    points: pointsA, longTime: longTimeA, long: longA,
    xTicks: xTicksA, yTicks: yTicksA, yMax: 23,
    yTitle: 'Est Bandwidth (Gbps)',
    padTop: 15, titleBottom: 13, xAxisH: 92.4, yAxisW: 101, rightW: 18
});

buildPanel('chartB', {
    points: pairs(timeB, shortB), longTime: longTimeB, long: longB,
    xTicks: xTicksB, yTicks: yTicksB, yMax: 16,
    yTitle: 'Est. Bandwidth (Gbps)',
    padTop: 75, titleBottom: 3, xAxisH: 86.4, yAxisW: 99, rightW: 23
});
</script>
</body>
</html>
